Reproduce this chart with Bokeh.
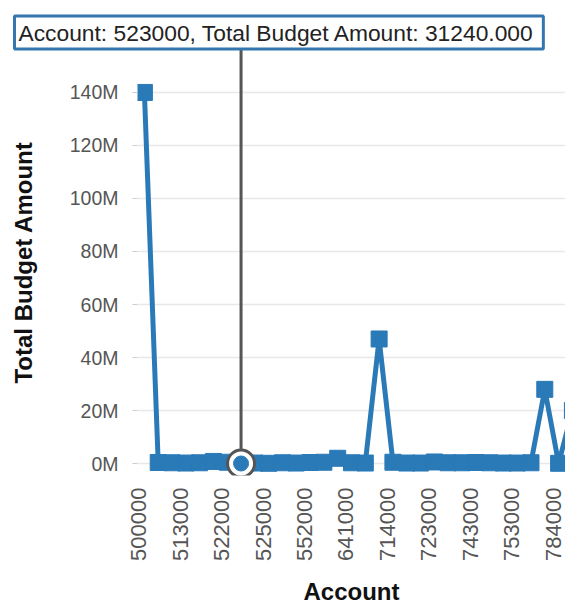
from bokeh.plotting import figure
from bokeh.models import Range1d, FixedTicker, CustomJSTickFormatter
from bokeh.embed import file_html
from bokeh.resources import INLINE
from math import pi

accounts = ["500000", "511000", "512000", "513000", "514000", "521000", "522000", "523000",
            "524000", "525000", "531000", "551000", "552000", "611000", "621000", "641000",
            "711000", "713000", "714000", "715000", "721000", "723000", "731000", "741000",
            "743000", "745000", "751000", "753000", "761000", "771000", "784000", "785000"]
budget = [140.0e6, 0.4e6, 0.3e6, 0.2e6, 0.3e6, 0.8e6, 0.5e6, 31240.0,
          0.2e6, 0.1e6, 0.3e6, 0.2e6, 0.4e6, 0.5e6, 2.0e6, 0.3e6,
          0.2e6, 47.0e6, 0.5e6, 0.2e6, 0.2e6, 0.6e6, 0.3e6, 0.3e6,
          0.4e6, 0.3e6, 0.2e6, 0.2e6, 0.3e6, 28.0e6, 0.1e6, 20.0e6]
tick_labels = ["500000", "513000", "522000", "525000", "552000", "641000",
               "714000", "723000", "743000", "753000", "784000"]
y_ticks = [0, 20e6, 40e6, 60e6, 80e6, 100e6, 120e6, 140e6, 160e6]
hover_account = "523000"

xs = list(range(len(accounts)))
BLUE = "#2a7ab8"
FONT = "Liberation Sans"

p = figure(width=565, height=607, output_backend="svg", toolbar_location=None,
           x_range=Range1d(-0.5, 30.5), y_range=Range1d(-4.5e6, 156.2e6),
           min_border_left=137, min_border_right=0, min_border_top=49, min_border_bottom=132)
p.outline_line_color = None
p.background_fill_color = "white"
p.xgrid.grid_line_color = None
p.ygrid.grid_line_color = "#e8e8e8"
p.ygrid.grid_line_width = 1.5

p.line(xs, budget, line_color=BLUE, line_width=5)
p.scatter(xs, budget, marker="square", size=16, fill_color=BLUE, line_color=BLUE)

hi = accounts.index(hover_account)
hv = budget[hi]
p.segment(x0=[hi], y0=[p.y_range.end], x1=[hi], y1=[hv], line_color="#555555", line_width=3)
p.scatter([hi], [hv], marker="circle", size=27, fill_color="white", line_color="#555555", line_width=3)
p.scatter([hi], [hv], marker="circle", size=15, fill_color=BLUE, line_color=BLUE)

# x axis (labels sit slightly left of their points, as in the reference)
p.xaxis.ticker = FixedTicker(ticks=[accounts.index(t) - 0.4 for t in tick_labels])
p.xaxis.formatter = CustomJSTickFormatter(args=dict(labels=accounts),
                                          code="const i = Math.round(tick); return labels[i] || '';")
p.xaxis.major_label_orientation = pi / 2
p.xaxis.axis_label = "Account"
p.xaxis.axis_line_color = None
p.xaxis.major_tick_line_color = None
p.xaxis.minor_tick_line_color = None
p.xaxis.major_label_standoff = 6
p.xaxis.axis_label_standoff = 14
p.xaxis.major_label_text_font_size = "22px"

# y axis
p.yaxis.ticker = FixedTicker(ticks=y_ticks)
p.yaxis.formatter = CustomJSTickFormatter(code="return (tick / 1e6).toFixed(0) + 'M';")
p.yaxis.axis_label = "Total Budget Amount"
p.yaxis.axis_line_color = None
p.yaxis.major_tick_line_color = "#cccccc"
p.yaxis.major_tick_in = 0
p.yaxis.major_tick_out = 5
p.yaxis.minor_tick_line_color = None
p.yaxis.major_label_standoff = 14
p.yaxis.axis_label_standoff = 30
p.yaxis.major_label_text_font_size = "19.5px"

for ax in (p.xaxis, p.yaxis):
    ax.major_label_text_font = FONT
    ax.major_label_text_color = "#555555"
    ax.axis_label_text_font = FONT
    ax.axis_label_text_font_size = "24px"
    ax.axis_label_text_font_style = "bold"
    ax.axis_label_text_color = "#111111"

# hover tooltip, drawn as the title box
t = p.title
t.text = f"Account: {hover_account}, Total Budget Amount: {hv:.3f}"
t.align = "left"
t.offset = -123
t.standoff = 1
t.text_font = FONT
t.text_font_size = "22.8px"
t.text_font_style = "normal"
t.text_color = "#222222"
t.background_fill_color = "white"
t.border_line_color = "#3476b0"
t.border_line_width = 3
if "padding" in t.properties():
    t.padding = dict(left=4, right=9, top=4, bottom=3)

open("out.html", "w").write(file_html(p, INLINE))
